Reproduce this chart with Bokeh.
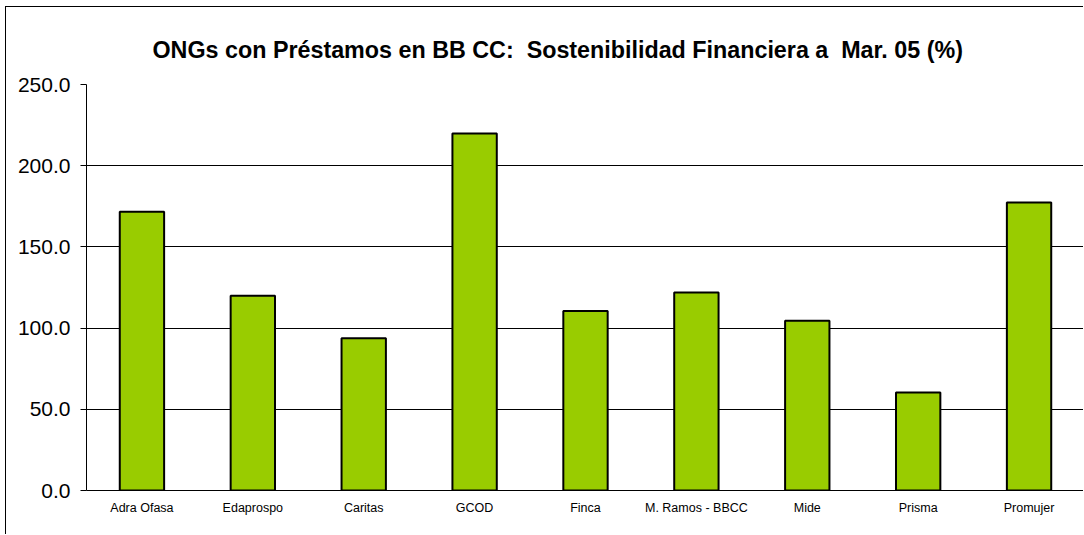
from bokeh.plotting import figure
from bokeh.models import Range1d, SingleIntervalTicker, NumeralTickFormatter, Title
from bokeh.embed import file_html
from bokeh.resources import INLINE

categories = ["Adra Ofasa", "Edaprospo", "Caritas", "GCOD", "Finca",
              "M. Ramos - BBCC", "Mide", "Prisma", "Promujer"]
values = [171.7, 119.9, 93.8, 219.8, 110.6, 121.9, 104.5, 60.3, 177.3]
title_text = "ONGs con Préstamos en BB CC:\u00a0 Sostenibilidad Financiera a\u00a0 Mar. 05 (%)"

FONT = "Liberation Sans"

p = figure(x_range=categories, y_range=Range1d(0, 250),
           width=1078, height=528, output_backend="svg", toolbar_location=None,
           min_border_left=80, min_border_right=0, min_border_top=77,
           min_border_bottom=45)
p.title = None
t = Title(text=title_text, align="left", text_font=FONT, text_font_size="23.3px",
          text_font_style="bold", text_color="black", offset=66, standoff=44)
p.add_layout(t, "above")

p.vbar(x=categories, top=values, width=0.4, fill_color="#99CC00",
       line_color="black", line_width=2)

p.outline_line_color = None
p.xgrid.grid_line_color = None
p.ygrid.grid_line_color = "black"
p.ygrid.grid_line_width = 1

p.yaxis.ticker = SingleIntervalTicker(interval=50)
p.yaxis.formatter = NumeralTickFormatter(format="0.0")
p.yaxis.major_label_text_font = FONT
p.yaxis.major_label_text_font_size = "21px"
p.yaxis.major_label_text_color = "black"
p.yaxis.axis_line_color = "black"
p.yaxis.major_tick_line_color = "black"
p.yaxis.major_tick_out = 6
p.yaxis.major_tick_in = 0
p.yaxis.minor_tick_line_color = None
p.yaxis.major_label_standoff = 10

p.xaxis.major_label_text_font = FONT
p.xaxis.major_label_text_font_size = "12.5px"
p.xaxis.major_label_text_color = "black"
p.xaxis.axis_line_color = "black"
p.xaxis.major_tick_line_color = None
p.xaxis.major_label_standoff = 4

p.styles = {"border-left": "1px solid black", "border-top": "1px solid black",
            "margin-left": "5px", "margin-top": "6px"}

open("out.html", "w").write(file_html(p, INLINE))
